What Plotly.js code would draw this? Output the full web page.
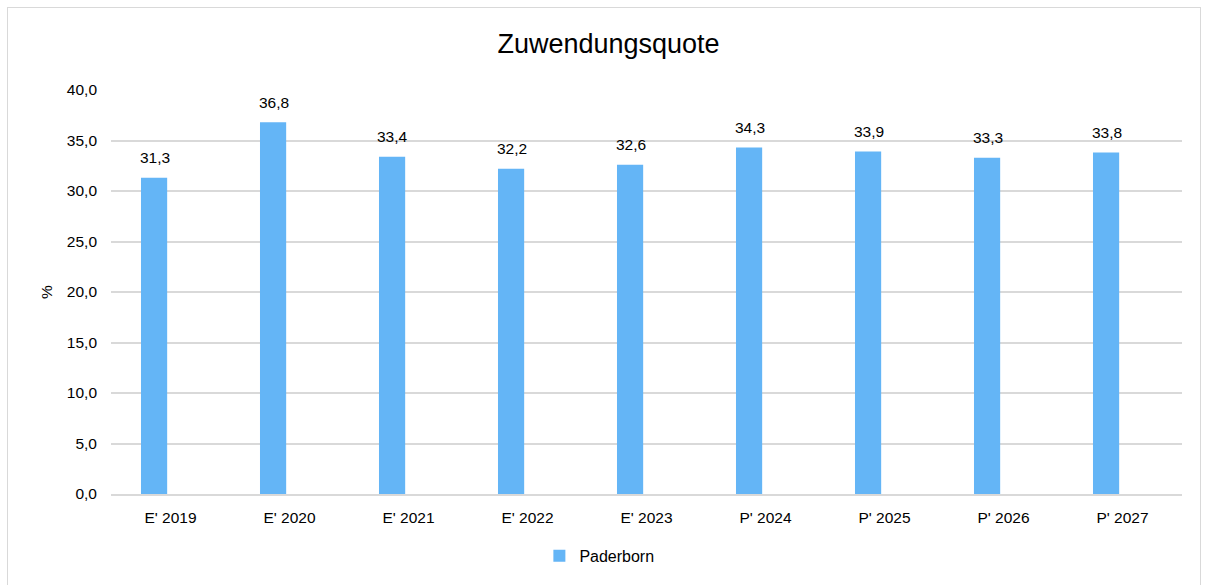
<!DOCTYPE html>
<html>
<head>
<meta charset="utf-8">
<script src="https://cdn.plot.ly/plotly-3.0.1.min.js"></script>
<style>
  body { margin: 0; background: #fff; }
  #frame { position: absolute; left: 7px; top: 7px; width: 1192px; height: 600px; border: 1px solid #d9d9d9; }
  #chart { position: absolute; left: 0; top: 0; width: 1205px; height: 585px; }
</style>
</head>
<body>
<div id="frame"></div>
<div id="chart"></div>
<script>
var categories = ["E' 2019", "E' 2020", "E' 2021", "E' 2022", "E' 2023", "P' 2024", "P' 2025", "P' 2026", "P' 2027"];
var paderborn = [31.3, 36.8, 33.4, 32.2, 32.6, 34.3, 33.9, 33.3, 33.8];
var yTicks = [0, 5, 10, 15, 20, 25, 30, 35, 40];

var trace1 = {
  x: categories,
  y: paderborn,
  name: 'Paderborn',
  type: 'bar',
  width: 0.22,
  offset: -0.248,
  marker: { color: '#64b5f6' },
  hoverinfo: 'none'
};

// value labels above the bars, like the Excel data labels
var labels = categories.map(function (c, i) {
  return {
    x: c,
    y: paderborn[i],
    xref: 'x',
    yref: 'y',
    text: paderborn[i].toFixed(1).replace('.', ','),
    showarrow: false,
    xshift: -16,
    yshift: 20,
    yanchor: 'middle',
    font: { size: 15.5, color: '#000' }
  };
});

var layout = {
  width: 1205,
  height: 585,
  paper_bgcolor: 'rgba(0,0,0,0)',
  plot_bgcolor: 'rgba(0,0,0,0)',
  separators: ',.',
  margin: { l: 111, r: 23, t: 90, b: 89 },
  font: { family: 'Liberation Sans, Arial, sans-serif', size: 15.5, color: '#000' },
  title: {
    text: 'Zuwendungsquote',
    font: { size: 27, color: '#000' },
    x: 0.505, xanchor: 'center',
    y: 0.925, yanchor: 'middle'
  },
  xaxis: {
    type: 'category',
    showgrid: false,
    showline: true,
    linecolor: '#d9d9d9',
    linewidth: 2,
    ticks: '',
    ticklabelstandoff: 8,
    zeroline: false
  },
  yaxis: {
    range: [0, 40],
    tickvals: yTicks,
    tickformat: '.1f',
    showgrid: true,
    gridcolor: '#d9d9d9',
    gridwidth: 2,
    zeroline: false,
    showline: false,
    ticks: '',
    ticklabelstandoff: 13,
    title: { text: '%', font: { size: 15.5 }, standoff: 10 }
  },
  annotations: labels,
  showlegend: true,
  legend: {
    orientation: 'h',
    x: 0.456, xanchor: 'center',
    y: -0.153, yanchor: 'middle',
    font: { size: 16 },
    itemwidth: 30
  },
  bargap: 0.2
};

Plotly.newPlot('chart', [trace1], layout, { displayModeBar: false, staticPlot: true });
</script>
</body>
</html>
